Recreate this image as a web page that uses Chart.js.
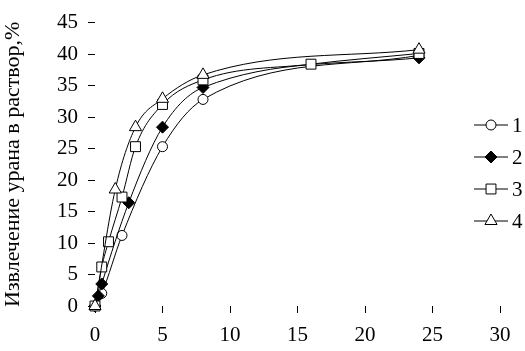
<!DOCTYPE html>
<html>
<head>
<meta charset="utf-8">
<script src="https://cdn.jsdelivr.net/npm/chart.js@4/dist/chart.umd.min.js"></script>
<style>
  html, body { margin: 0; padding: 0; background: #fff; }
  #wrap { width: 525px; height: 351px; }
</style>
</head>
<body>
<div id="wrap"><canvas id="grafico"></canvas></div>
<script>
// --- DATOS ---
const serieNombres = ['1', '2', '3', '4'];
const x1 = [0, 0.5, 2, 5, 8, 24];
const y1 = [0, 2, 11.2, 25.3, 32.8, 39.8];
const x2 = [0, 0.25, 0.5, 2.5, 5, 8, 24];
const y2 = [0, 1.6, 3.5, 16.4, 28.4, 34.7, 39.4];
const x3 = [0, 0.5, 1, 2, 3, 5, 8, 16, 24];
const y3 = [0, 6.2, 10.2, 17.3, 25.3, 32, 35.9, 38.4, 40.1];
const x4 = [0, 1.5, 3, 5, 8, 24];
const y4 = [0, 18.5, 28.4, 32.9, 36.7, 40.7];
const xTicks = [0, 5, 10, 15, 20, 25, 30];
const yTicks = [0, 5, 10, 15, 20, 25, 30, 35, 40, 45];

const FUENTE = '"Liberation Serif", "DejaVu Serif", serif';
const estilos = [
  { pointStyle: 'circle', radius: 5, fill: '#fff' },
  { pointStyle: 'rectRot', radius: 6, fill: '#000' },
  { pointStyle: 'rect', radius: 7, fill: '#fff' },
  { pointStyle: 'triangle', radius: 7, fill: '#fff' }
];

const pares = (xs, ys) => xs.map((x, i) => ({ x: x, y: ys[i] }));
const series = [pares(x1, y1), pares(x2, y2), pares(x3, y3), pares(x4, y4)];

// leyenda dibujada a mano: linea + marcador + numero
const leyendaPlugin = {
  id: 'leyendaLineas',
  afterDraw(chart) {
    const ctx = chart.ctx;
    ctx.save();
    serieNombres.forEach((nombre, i) => {
      const y = 125 + i * 32;
      const e = estilos[i];
      ctx.strokeStyle = '#000';
      ctx.lineWidth = 1;
      ctx.beginPath();
      ctx.moveTo(474, y);
      ctx.lineTo(508, y);
      ctx.stroke();
      ctx.fillStyle = e.fill;
      Chart.helpers.drawPoint(ctx, { pointStyle: e.pointStyle, radius: e.radius, borderWidth: 1 }, 491, y);
      ctx.fillStyle = '#000';
      ctx.font = '21px ' + FUENTE;
      ctx.textBaseline = 'middle';
      ctx.textAlign = 'left';
      ctx.fillText(nombre, 512, y + 1);
    });
    ctx.restore();
  }
};

new Chart(document.getElementById('grafico'), {
  type: 'line',
  data: {
    datasets: series.map((d, i) => ({
      label: serieNombres[i],
      data: d,
      borderColor: '#000',
      borderWidth: 1,
      backgroundColor: estilos[i].fill,
      pointBackgroundColor: estilos[i].fill,
      pointBorderColor: '#000',
      pointBorderWidth: 1,
      pointStyle: estilos[i].pointStyle,
      pointRadius: estilos[i].radius,
      cubicInterpolationMode: 'monotone',
      fill: false,
      clip: false,
      order: 4 - i
    }))
  },
  options: {
    responsive: true,
    maintainAspectRatio: false,
    animation: false,
    layout: { padding: { top: 10, right: 25, left: 0, bottom: 0 } },
    plugins: { legend: { display: false }, tooltip: { enabled: false } },
    scales: {
      x: {
        type: 'linear',
        min: 0,
        max: 30,
        afterBuildTicks: s => { s.ticks = xTicks.map(v => ({ value: v })); },
        afterFit: s => { s.height = 45; },
        border: { display: false },
        grid: { drawOnChartArea: false, drawTicks: true, tickLength: 7, color: '#000' },
        ticks: { color: '#000', padding: 10, font: { family: FUENTE, size: 21 }, maxRotation: 0 }
      },
      y: {
        type: 'linear',
        min: 0,
        max: 45,
        afterBuildTicks: s => { s.ticks = yTicks.map(v => ({ value: v })); },
        afterFit: s => { s.width = 95; },
        border: { display: false },
        grid: { drawOnChartArea: false, drawTicks: true, tickLength: 7, color: '#000' },
        ticks: { color: '#000', padding: 10, font: { family: FUENTE, size: 21 } },
        title: {
          display: true,
          text: 'Извлечение урана в раствор,%',
          color: '#000',
          font: { family: FUENTE, size: 22 },
          padding: { top: 0, bottom: 0 }
        }
      }
    }
  },
  plugins: [leyendaPlugin]
});
</script>
</body>
</html>
